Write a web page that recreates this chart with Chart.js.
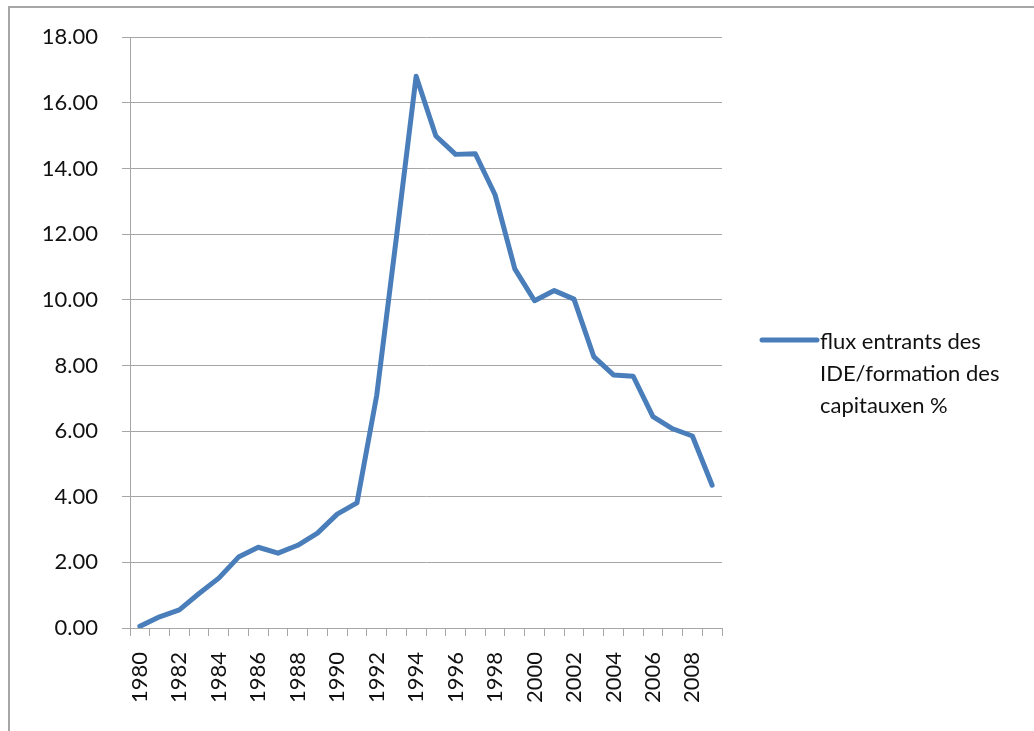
<!DOCTYPE html>
<html>
<head>
<meta charset="utf-8">
<script src="https://cdn.jsdelivr.net/npm/chart.js@4.4.1/dist/chart.umd.min.js"></script>
<style>
    html, body { margin: 0; padding: 0; background: #fff; overflow: hidden; }
    #wrap { position: relative; width: 1034px; height: 731px; }
    #frame { position: absolute; left: 8px; top: 6px; width: 1100px; height: 800px; border: 2px solid #a6a6a6; box-sizing: border-box; }
    canvas { position: absolute; left: 0; top: 0; }
</style>
</head>
<body>
<div id="wrap">
    <div id="frame"></div>
    <canvas id="chart" width="1034" height="731"></canvas>
</div>
<script>
    const years = [
        1980, 1981, 1982, 1983, 1984, 1985, 1986, 1987, 1988, 1989,
        1990, 1991, 1992, 1993, 1994, 1995, 1996, 1997, 1998, 1999,
        2000, 2001, 2002, 2003, 2004, 2005, 2006, 2007, 2008, 2009
    ];
    const fdiShare = [
        0.05, 0.34, 0.55, 1.05, 1.52, 2.16, 2.46, 2.28, 2.52, 2.89,
        3.47, 3.81, 7.08, 11.9, 16.81, 14.99, 14.43, 14.45, 13.2, 10.94,
        9.97, 10.28, 10.02, 8.27, 7.71, 7.67, 6.44, 6.07, 5.85, 4.35
    ];
    const yTicks = [0, 2, 4, 6, 8, 10, 12, 14, 16, 18];
    const legendLines = ['flux entrants des', 'IDE/formation des', 'capitauxen %'];

    const FONT = 'Lato, "Liberation Sans", sans-serif';
    const GRID = '#a6a6a6';
    const BLUE = '#4a7ebb';
    const TEXT = '#111';

    // legend drawn by hand so the label can wrap over three lines
    const sideLegend = {
        id: 'sideLegend',
        afterDraw(chart) {
            const ctx = chart.ctx;
            const x0 = 762, y0 = 340;
            ctx.save();
            ctx.strokeStyle = BLUE;
            ctx.lineWidth = 5;
            ctx.lineCap = 'round';
            ctx.beginPath();
            ctx.moveTo(x0, y0);
            ctx.lineTo(x0 + 55, y0);
            ctx.stroke();
            ctx.fillStyle = TEXT;
            ctx.font = '22px ' + FONT;
            ctx.textBaseline = 'middle';
            legendLines.forEach((line, i) => {
                ctx.fillText(line, x0 + 58, y0 + 2 + i * 32);
            });
            ctx.restore();
        }
    };

    new Chart(document.getElementById('chart').getContext('2d'), {
        type: 'line',
        data: {
            labels: years,
            datasets: [{
                label: legendLines.join(' '),
                data: fdiShare,
                borderColor: BLUE,
                backgroundColor: BLUE,
                borderWidth: 5,
                borderJoinStyle: 'round',
                borderCapStyle: 'round',
                pointRadius: 0,
                tension: 0
            }]
        },
        options: {
            responsive: false,
            animation: false,
            layout: { padding: { left: 0, top: 36, right: 312, bottom: 0 } },
            plugins: {
                legend: { display: false },
                tooltip: { enabled: false }
            },
            scales: {
                x: {
                    type: 'category',
                    offset: true,
                    grid: {
                        offset: true,
                        drawOnChartArea: false,
                        drawTicks: true,
                        tickLength: 8,
                        color: GRID
                    },
                    border: { color: GRID, width: 1 },
                    ticks: {
                        autoSkip: false,
                        minRotation: 90,
                        maxRotation: 90,
                        padding: 16,
                        color: TEXT,
                        font: { family: FONT, size: 22 },
                        callback: function (value, index) {
                            const y = years[index];
                            return y % 2 === 0 ? String(y) : '';
                        }
                    },
                    afterFit(scale) { scale.height = 103; }
                },
                y: {
                    min: 0,
                    max: 18,
                    grid: {
                        color: GRID,
                        tickLength: 8,
                        drawTicks: true
                    },
                    border: { color: GRID, width: 1 },
                    afterBuildTicks(scale) {
                        scale.ticks = yTicks.map(v => ({ value: v }));
                    },
                    ticks: {
                        padding: 24,
                        color: TEXT,
                        font: { family: FONT, size: 22 },
                        callback: v => Number(v).toFixed(2)
                    },
                    afterFit(scale) { scale.width = 130; }
                }
            }
        },
        plugins: [sideLegend]
    });
</script>
</body>
</html>
